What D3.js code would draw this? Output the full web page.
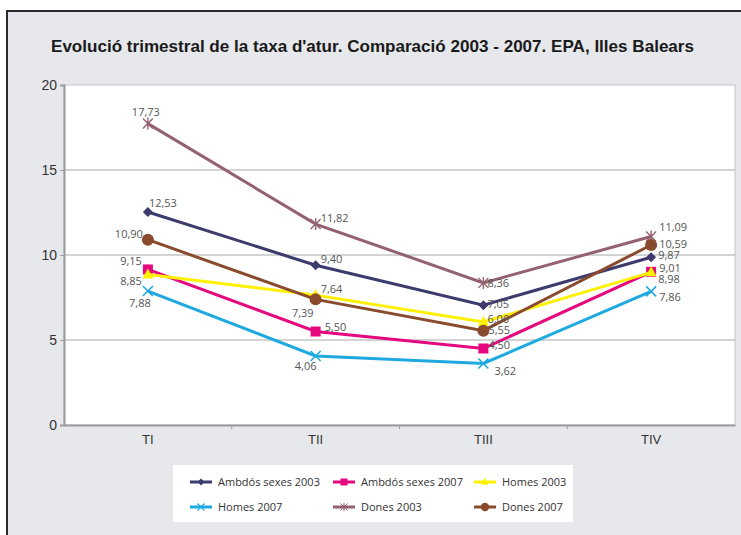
<!DOCTYPE html>
<html>
<head>
<meta charset="utf-8">
<script src="https://cdn.jsdelivr.net/npm/d3@7"></script>
<style>
  html, body { margin: 0; padding: 0; background: #fff; }
  svg { display: block; }
</style>
</head>
<body>
<div id="chart"></div>
<script>
// dades llegides del gràfic
const title = "Evolució trimestral de la taxa d'atur. Comparació 2003 - 2007. EPA, Illes Balears";
const trimestres = ["TI", "TII", "TIII", "TIV"];
const yTicks = [0, 5, 10, 15, 20];

const ambdos2003 = [12.53, 9.40, 7.05, 9.87];
const ambdos2007 = [9.15, 5.50, 4.50, 9.01];
const homes2003 = [8.85, 7.64, 6.06, 8.98];
const homes2007 = [7.88, 4.06, 3.62, 7.86];
const dones2003 = [17.73, 11.82, 8.36, 11.09];
const dones2007 = [10.90, 7.39, 5.55, 10.59];

const series = [
  { name: "Ambdós sexes 2003", values: ambdos2003, color: "#3d3b6e", marker: "diamond" },
  { name: "Ambdós sexes 2007", values: ambdos2007, color: "#e5087f", marker: "square" },
  { name: "Homes 2003", values: homes2003, color: "#fff000", marker: "triangle" },
  { name: "Homes 2007", values: homes2007, color: "#1fa9e1", marker: "cross" },
  { name: "Dones 2003", values: dones2003, color: "#93616f", marker: "star" },
  { name: "Dones 2007", values: dones2007, color: "#8a4a2d", marker: "circle" }
];

// posició de les etiquetes (dx, dy respecte del punt, ancoratge) - com ho fa l'Excel
const labelPos = {
  "Ambdós sexes 2003": [[1, -5, "start"], [5, -2, "start"], [4, 3, "start"], [7, 2, "start"]],
  "Ambdós sexes 2007": [[-6, -4, "end"], [9, -1, "start"], [5, 0, "start"], [8, 0, "start"]],
  "Homes 2003": [[-6, 10, "end"], [5, -2, "start"], [4, 1, "start"], [7, 11, "start"]],
  "Homes 2007": [[-8, 16, "middle"], [-10, 14, "middle"], [11, 12, "start"], [8, 10, "start"]],
  "Dones 2003": [[-2, -8, "middle"], [5, -2, "start"], [4, 4, "start"], [8, -5, "start"]],
  "Dones 2007": [[-5, -2, "end"], [-2, 18, "end"], [5, 3, "start"], [8, 3, "start"]]
};

const width = 741, height = 535;
const plot = { left: 64, right: 735, top: 85, bottom: 425 };

const svg = d3.select("#chart").append("svg")
  .attr("width", width)
  .attr("height", height);

// fons i marc
svg.append("rect").attr("x", 7).attr("y", 11).attr("width", width).attr("height", height)
  .attr("fill", "#e6e8eb");
svg.append("line").attr("x1", 7).attr("x2", width).attr("y1", 11).attr("y2", 11)
  .attr("stroke", "#2a2a2a").attr("stroke-width", 2);
svg.append("line").attr("x1", 7).attr("x2", 7).attr("y1", 10).attr("y2", height)
  .attr("stroke", "#2a2a2a").attr("stroke-width", 2);

svg.append("text")
  .attr("x", 51).attr("y", 52)
  .attr("textLength", 643).attr("lengthAdjust", "spacingAndGlyphs")
  .attr("font-family", "Liberation Sans, Arial, sans-serif")
  .attr("font-weight", "bold").attr("font-size", 17)
  .attr("fill", "#1a1a1a")
  .text(title);

const x = d3.scaleBand().domain(trimestres).range([plot.left, plot.right]);
const y = d3.scaleLinear().domain([0, 20]).range([plot.bottom, plot.top]);

// àrea del gràfic
svg.append("rect")
  .attr("x", plot.left).attr("y", plot.top)
  .attr("width", plot.right - plot.left).attr("height", plot.bottom - plot.top)
  .attr("fill", "#fff").attr("stroke", "#c4c4c4").attr("stroke-width", 1);

// línies de graella
svg.append("g").selectAll("line")
  .data(yTicks.filter(d => d > 0 && d < 20))
  .join("line")
  .attr("x1", plot.left).attr("x2", plot.right)
  .attr("y1", d => y(d)).attr("y2", d => y(d))
  .attr("stroke", "#a8a8a8").attr("stroke-width", 1);

// eix Y
const yAxis = svg.append("g")
  .attr("transform", `translate(${plot.left},0)`)
  .call(d3.axisLeft(y).tickValues(yTicks).tickSize(4).tickPadding(3));
yAxis.select(".domain").attr("stroke", "#9a9a9a").attr("stroke-width", 2);
yAxis.selectAll(".tick line").attr("stroke", "#9a9a9a");
yAxis.selectAll("text")
  .attr("font-family", "Liberation Sans, Arial, sans-serif")
  .attr("font-size", 14).attr("fill", "#333");

// eix X
const xAxis = svg.append("g")
  .attr("transform", `translate(0,${plot.bottom})`)
  .call(d3.axisBottom(x).tickSize(0).tickPadding(10));
xAxis.select(".domain").attr("stroke", "#9a9a9a").attr("stroke-width", 2);
xAxis.selectAll("text")
  .attr("font-family", "Liberation Sans, Arial, sans-serif")
  .attr("font-size", 13).attr("fill", "#333");
svg.append("g").selectAll("line")
  .data(trimestres.slice(1))
  .join("line")
  .attr("x1", d => x(d)).attr("x2", d => x(d))
  .attr("y1", plot.bottom).attr("y2", plot.bottom + 4)
  .attr("stroke", "#9a9a9a");

const cx = d => x(d) + x.bandwidth() / 2;

function drawMarker(g, type, color) {
  if (type === "diamond") {
    g.append("path").attr("d", "M0,-5L5,0L0,5L-5,0Z").attr("fill", color);
  } else if (type === "square") {
    g.append("rect").attr("x", -5).attr("y", -5).attr("width", 10).attr("height", 10).attr("fill", color);
  } else if (type === "triangle") {
    g.append("path").attr("d", "M0,-6L5.5,4L-5.5,4Z").attr("fill", color);
  } else if (type === "cross") {
    g.append("path").attr("d", "M-5,-5L5,5M-5,5L5,-5").attr("stroke", color).attr("stroke-width", 1.6);
  } else if (type === "star") {
    g.append("path").attr("d", "M-5,-5L5,5M-5,5L5,-5M0,-6L0,6").attr("stroke", color).attr("stroke-width", 1.4);
  } else if (type === "circle") {
    g.append("circle").attr("r", 6).attr("fill", color);
  }
}

const line = d3.line()
  .x((d, i) => cx(trimestres[i]))
  .y(d => y(d));

const fmt = v => d3.format(".2f")(v).replace(".", ",");

series.forEach(s => {
  const g = svg.append("g");
  g.append("path")
    .attr("d", line(s.values))
    .attr("fill", "none")
    .attr("stroke", s.color)
    .attr("stroke-width", 3);
  s.values.forEach((v, i) => {
    const m = g.append("g").attr("transform", `translate(${cx(trimestres[i])},${y(v)})`);
    drawMarker(m, s.marker, s.color);
  });
});

// etiquetes de dades
series.forEach(s => {
  s.values.forEach((v, i) => {
    const [dx, dy, anchor] = labelPos[s.name][i];
    svg.append("text")
      .attr("x", cx(trimestres[i]) + dx)
      .attr("y", y(v) + dy)
      .attr("text-anchor", anchor)
      .attr("font-family", "Open Sans, Noto Sans, sans-serif")
      .attr("font-size", 11)
      .attr("fill", "#555")
      .text(fmt(v));
  });
});

// llegenda
const legend = svg.append("g");
legend.append("rect")
  .attr("x", 173).attr("y", 465).attr("width", 400).attr("height", 57)
  .attr("fill", "#fff");
const colX = [190, 333, 474];
const rowY = [482, 507];
series.forEach((s, i) => {
  const lx = colX[i % 3], ly = rowY[Math.floor(i / 3)];
  const g = legend.append("g");
  g.append("line")
    .attr("x1", lx).attr("x2", lx + 22).attr("y1", ly).attr("y2", ly)
    .attr("stroke", s.color).attr("stroke-width", 3);
  const m = g.append("g").attr("transform", `translate(${lx + 11},${ly}) scale(0.7)`);
  drawMarker(m, s.marker, s.color);
  g.append("text")
    .attr("x", lx + 28).attr("y", ly + 4)
    .attr("font-family", "Open Sans, Noto Sans, sans-serif")
    .attr("font-size", 11)
    .attr("fill", "#333")
    .text(s.name);
});
</script>
</body>
</html>
